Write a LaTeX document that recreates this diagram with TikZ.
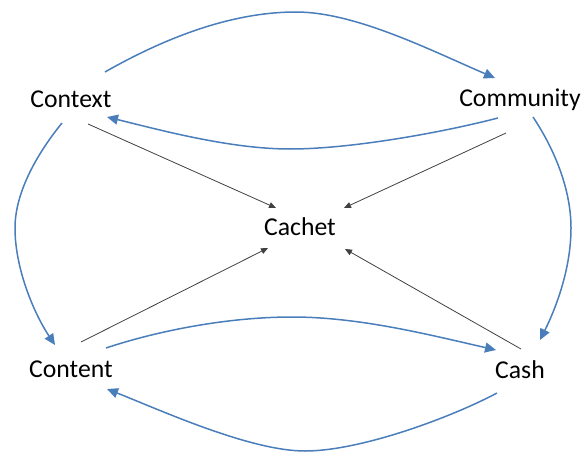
\documentclass[tikz,border=0pt]{standalone}
\usepackage{fontspec}
\setmainfont{Carlito}
\usetikzlibrary{arrows.meta,calc}
\definecolor{linkblue}{HTML}{4A7EBB}
\definecolor{spoke}{HTML}{404040}
\begin{document}
\begin{tikzpicture}[x=1pt,y=-1pt,
  lbl/.style={anchor=base,font=\fontsize{25.7}{30}\selectfont,inner sep=0pt},
  loopedge/.style={draw=linkblue,line width=1.5pt,-{Triangle[length=11pt,width=10pt]}},
  spokearrow/.style={draw=spoke,line width=0.8pt,-{Triangle[length=7pt,width=6pt]}}]
\useasboundingbox (0,0) rectangle (583,452);

\node[lbl] (ctx)  at (71,107)  {Context};
\node[lbl] (com)  at (520,106) {Community};
\node[lbl] (cac)  at (300,235) {Cachet};
\node[lbl] (cnt)  at (71,377)  {Content};
\node[lbl] (cash) at (520,378) {Cash};

% outer cycle
\draw[loopedge] ($(ctx.base)+(34,-35)$) .. controls (170,35) and (235,12) .. (296,12)
   .. controls (355,12) and (430,50) .. ($(com.base)+(-25,-28)$);
\draw[loopedge] ($(com.base)+(-22,12)$) .. controls (440,133) and (350,149) .. (290,149)
   .. controls (230,149) and (160,130) .. ($(ctx.base)+(36,10)$);
\draw[loopedge] ($(ctx.base)+(-9,16)$) .. controls (40,150) and (15,190) .. (15,228)
   .. controls (15,270) and (35,315) .. ($(cnt.base)+(-16,-32)$);
\draw[loopedge] ($(com.base)+(13,11)$) .. controls (555,150) and (571,190) .. (571,228)
   .. controls (571,270) and (555,310) .. ($(cash.base)+(20,-38)$);
\draw[loopedge] ($(cnt.base)+(35,-29)$) .. controls (160,330) and (230,317) .. (292,317)
   .. controls (360,317) and (430,335) .. ($(cash.base)+(-24,-28)$);
\draw[loopedge] ($(cash.base)+(-23,15)$) .. controls (450,418) and (360,451) .. (305,451)
   .. controls (250,451) and (160,410) .. ($(cnt.base)+(36,12)$);

% spokes into Cachet
\draw[spokearrow] ($(ctx.base)+(17,17)$) -- ($(cac.base)+(-24,-27)$);
\draw[spokearrow] ($(com.base)+(-14,27)$) -- ($(cac.base)+(44,-27)$);
\draw[spokearrow] ($(cnt.base)+(10,-35)$) -- ($(cac.base)+(-32,13)$);
\draw[spokearrow] ($(cash.base)+(1,-29)$) -- ($(cac.base)+(45,14)$);
\end{tikzpicture}
\end{document}
